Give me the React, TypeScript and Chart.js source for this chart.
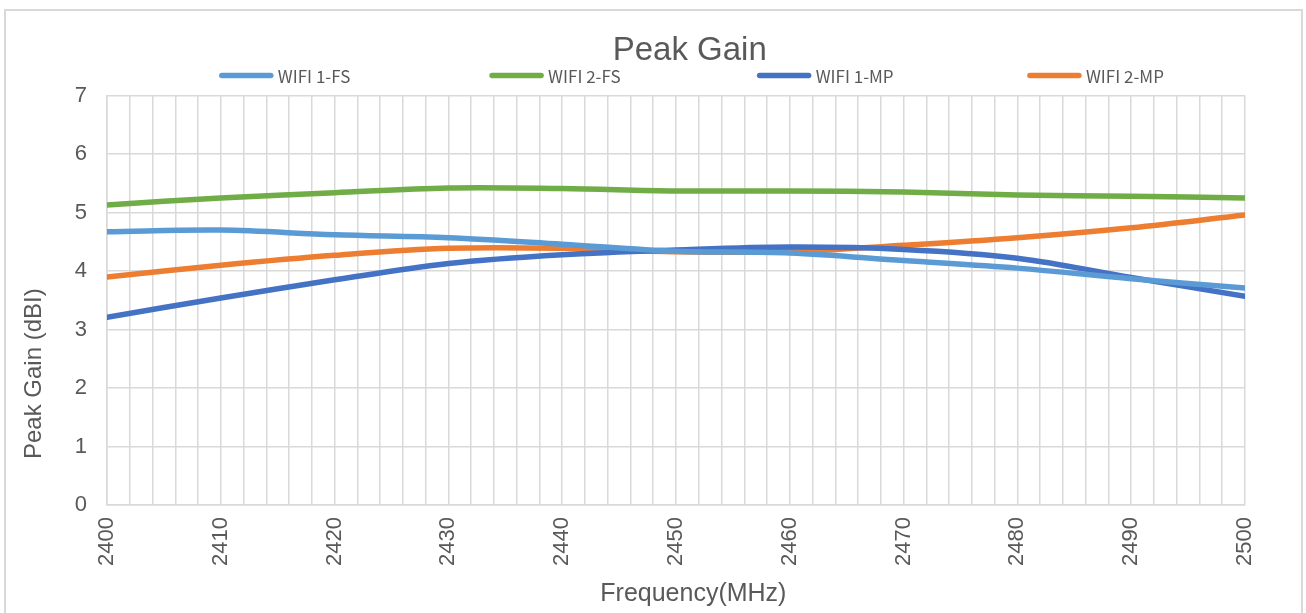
import { useEffect, useRef } from 'react';
import { Chart, registerables } from 'chart.js';

Chart.register(...registerables);

// ---- data ----
const frequencies = [2400, 2410, 2420, 2430, 2440, 2450, 2460, 2470, 2480, 2490, 2500];
const wifi1FS = [4.67, 4.7, 4.62, 4.57, 4.46, 4.34, 4.31, 4.18, 4.05, 3.87, 3.71];
const wifi2FS = [5.13, 5.25, 5.34, 5.42, 5.41, 5.37, 5.37, 5.35, 5.3, 5.28, 5.25];
const wifi1MP = [3.21, 3.54, 3.85, 4.13, 4.28, 4.36, 4.41, 4.37, 4.22, 3.89, 3.57];
const wifi2MP = [3.9, 4.1, 4.27, 4.39, 4.39, 4.33, 4.33, 4.44, 4.57, 4.74, 4.96];
const seriesNames = ['WIFI 1-FS', 'WIFI 2-FS', 'WIFI 1-MP', 'WIFI 2-MP'];
const seriesColors = ['#5B9BD5', '#70AD47', '#4472C4', '#ED7D31'];
const seriesValues = [wifi1FS, wifi2FS, wifi1MP, wifi2MP];
const xMin = 2400;
const xMax = 2500;
const xGridStep = 2;
const xLabelStep = 10;
const yMin = 0;
const yMax = 7;
const yStep = 1;
const chartTitle = 'Peak Gain';
const xTitle = 'Frequency(MHz)';
const yTitle = 'Peak Gain (dBI)';

const TEXT = '#595959';
const GRID = '#d9d9d9';

const legendPlugin = {
  id: 'excelLegend',
  afterDraw(chart: any) {
    const { ctx, chartArea } = chart;
    const datasets = chart.data.datasets;
    ctx.save();
    ctx.font = '17px "Noto Sans CJK SC"';
    const lineLen = 55;
    const gap = 4;
    const spacing = chartArea.width * 0.2375;
    const groupCenter = (chartArea.left + chartArea.right) / 2 + 14;
    const y = chartArea.top - 20;
    datasets.forEach((ds: any, i: number) => {
      const tw = ctx.measureText(ds.label).width;
      const itemW = lineLen + gap + tw;
      const cx = groupCenter + (i - (datasets.length - 1) / 2) * spacing;
      const x0 = cx - itemW / 2;
      ctx.strokeStyle = ds.borderColor;
      ctx.lineWidth = 5.5;
      ctx.lineCap = 'round';
      ctx.beginPath();
      ctx.moveTo(x0 + 3, y);
      ctx.lineTo(x0 + lineLen - 3, y);
      ctx.stroke();
      ctx.fillStyle = TEXT;
      ctx.textBaseline = 'middle';
      ctx.textAlign = 'left';
      ctx.fillText(ds.label, x0 + lineLen + gap, y + 1);
    });
    ctx.restore();
  },
};

export default function App() {
  const canvasRef = useRef<HTMLCanvasElement | null>(null);

  useEffect(() => {
    const canvas = canvasRef.current;
    if (!canvas) return;
    const datasets = seriesNames.map((name, i) => ({
      label: name,
      data: frequencies.map((f, j) => ({ x: f, y: seriesValues[i][j] })),
      borderColor: seriesColors[i],
      backgroundColor: seriesColors[i],
      borderWidth: 5.5,
      borderCapStyle: 'round' as const,
      pointRadius: 0,
      pointHoverRadius: 0,
      tension: 0.35,
      fill: false,
    }));

    const chart = new Chart(canvas, {
      type: 'line',
      data: { datasets },
      plugins: [legendPlugin],
      options: {
        responsive: false,
        animation: false,
        layout: { padding: { left: 0, right: 61, top: 0, bottom: 0 } },
        plugins: {
          legend: { display: false },
          tooltip: { enabled: false },
          title: {
            display: true,
            text: '   ' + chartTitle,
            fullSize: false,
            color: TEXT,
            font: { family: '"Liberation Sans", Arial, sans-serif', size: 33, weight: 'normal' },
            padding: { top: 31, bottom: 25 },
          },
        },
        scales: {
          x: {
            type: 'linear',
            min: xMin,
            max: xMax,
            afterFit: (scale: any) => {
              scale.height = 108;
            },
            border: { color: GRID, width: 1.5 },
            grid: { color: GRID, lineWidth: 1.5, drawTicks: false },
            ticks: {
              stepSize: xGridStep,
              autoSkip: false,
              minRotation: 90,
              maxRotation: 90,
              padding: 12,
              color: TEXT,
              font: { family: '"Liberation Sans", Arial, sans-serif', size: 22 },
              callback: (v: any) => (Number(v) % xLabelStep === 0 ? String(v) : ''),
            },
            title: {
              display: true,
              text: '     ' + xTitle,
              color: TEXT,
              font: { family: '"Liberation Sans", Arial, sans-serif', size: 25 },
              padding: { top: 0, bottom: 4 },
            },
          },
          y: {
            type: 'linear',
            min: yMin,
            max: yMax,
            afterFit: (scale: any) => {
              scale.width = 107;
            },
            border: { color: GRID, width: 1.5 },
            grid: { color: GRID, lineWidth: 1.5, drawTicks: false },
            ticks: {
              stepSize: yStep,
              padding: 20,
              color: TEXT,
              font: { family: '"Liberation Sans", Arial, sans-serif', size: 22 },
            },
            title: {
              display: true,
              text: yTitle + '                      ',
              color: TEXT,
              font: { family: '"Liberation Sans", Arial, sans-serif', size: 24 },
              padding: { top: 20, bottom: 0 },
            },
          },
        },
      },
    });
    return () => chart.destroy();
  }, []);

  return (
    <div
      style={{
        position: 'fixed',
        left: 0,
        top: 0,
        width: 1306,
        height: 613,
        overflow: 'hidden',
        background: '#ffffff',
      }}
    >
      <div
        style={{
          position: 'absolute',
          left: 4,
          top: 9,
          width: 1299,
          height: 640,
          boxSizing: 'border-box',
          border: '2px solid #d9d9d9',
        }}
      />
      <canvas
        ref={canvasRef}
        width={1306}
        height={613}
        style={{ position: 'absolute', left: 0, top: 0, width: 1306, height: 613 }}
      />
    </div>
  );
}
